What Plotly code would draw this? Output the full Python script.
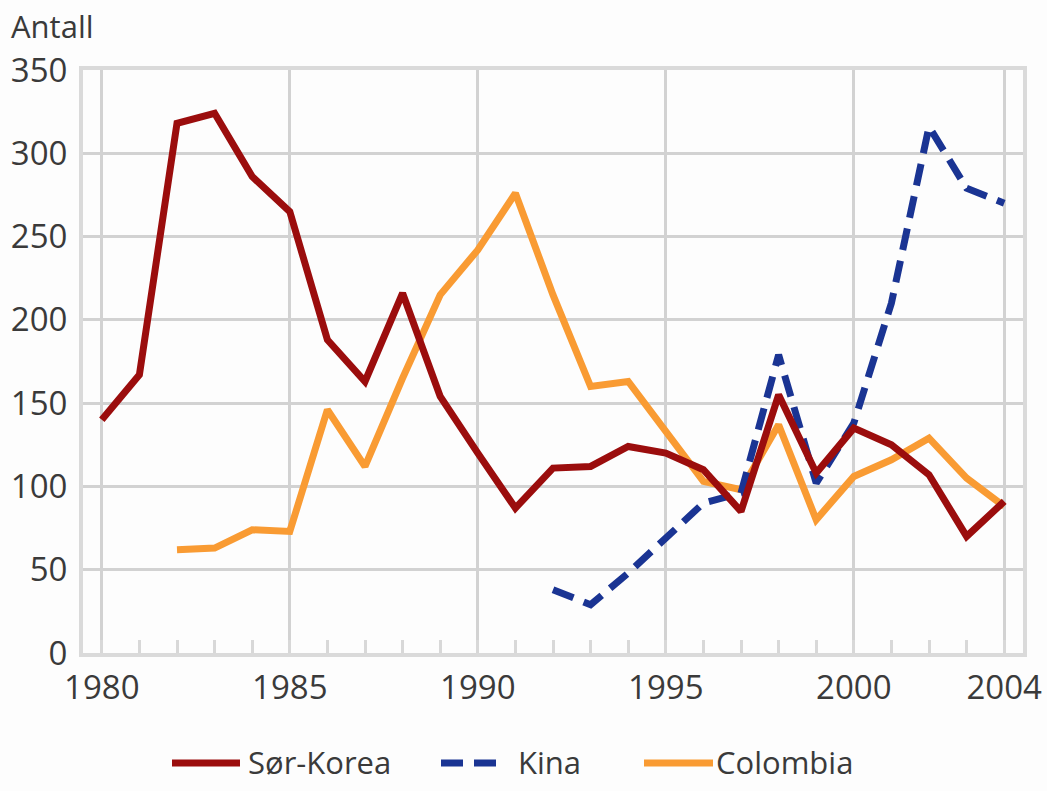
import plotly.graph_objects as go

years_korea = list(range(1980, 2005))
korea = [140, 167, 318, 324, 286, 265, 188, 163, 216, 154, 120, 87, 111, 112,
         124, 120, 110, 85, 155, 108, 135, 125, 107, 70, 91]

years_kina = list(range(1992, 2005))
kina = [38, 29, 48, 69, 90, 96, 179, 102, 138, 210, 316, 279, 270]

years_colombia = list(range(1982, 2005))
colombia = [62, 63, 74, 73, 146, 112, 165, 215, 242, 276, 215, 160, 163, 133,
            103, 98, 137, 80, 106, 116, 129, 105, 88]

x_tickvals = [1980, 1985, 1990, 1995, 2000, 2004]
y_tickvals = [0, 50, 100, 150, 200, 250, 300, 350]

series_names = ["Sør-Korea", "Kina", "Colombia"]

RED = "#9b0d0d"
BLUE = "#1a3493"
ORANGE = "#f99b33"
FONT = "Open Sans"
TXT = "#3a3a3a"

W, H = 1047, 791
L, R, T, B = 83, 24, 70, 138
PW = W - L - R
PH = H - T - B


def px_x(px):
    return (px - L) / PW


def px_y(py):
    return (H - B - py) / PH


fig = go.Figure()
fig.add_trace(go.Scatter(x=years_colombia, y=colombia, mode="lines", name=series_names[2],
                         line=dict(color=ORANGE, width=7), showlegend=False))
fig.add_trace(go.Scatter(x=years_kina, y=kina, mode="lines", name=series_names[1],
                         line=dict(color=BLUE, width=7, dash="22px,11px"), showlegend=False))
fig.add_trace(go.Scatter(x=years_korea, y=korea, mode="lines", name=series_names[0],
                         line=dict(color=RED, width=7), showlegend=False))

# legend drawn in paper space (keys + labels)
LEG_Y = 763
legend_items = [
    (series_names[0], RED, "solid", 172, 240, 249),
    (series_names[1], BLUE, "22px,11px", 441, 502, 519),
    (series_names[2], ORANGE, "solid", 644, 713, 717),
]
shapes = []
annotations = [dict(text="Antall", xref="paper", yref="paper", x=px_x(9), y=px_y(26),
                    xanchor="left", yanchor="middle", showarrow=False,
                    font=dict(size=31, color=TXT))]
for name, color, dash, x0, x1, tx in legend_items:
    shapes.append(dict(type="line", xref="paper", yref="paper",
                       x0=px_x(x0), x1=px_x(x1), y0=px_y(LEG_Y), y1=px_y(LEG_Y),
                       line=dict(color=color, width=7, dash=dash)))
    annotations.append(dict(text=name, xref="paper", yref="paper", x=px_x(tx - 3),
                            y=px_y(LEG_Y - 1), xanchor="left", yanchor="middle",
                            showarrow=False, font=dict(size=31, color=TXT)))

fig.update_layout(
    width=W, height=H,
    margin=dict(l=L, r=R, t=T, b=B),
    paper_bgcolor="#fdfdfd", plot_bgcolor="#fdfdfd",
    font=dict(family=FONT, size=31, color=TXT),
    showlegend=False,
    shapes=shapes,
    annotations=annotations,
)

fig.update_xaxes(
    range=[1979.5, 2004.5], tickmode="array", tickvals=x_tickvals,
    ticktext=[str(v) for v in x_tickvals], automargin=False,
    tickfont=dict(size=33), ticklabeloverflow="allow",
    showgrid=True, gridcolor="#d2d2d2", gridwidth=3,
    showline=True, linecolor="#dadada", linewidth=4, mirror=True,
    ticks="", zeroline=False, ticklabelstandoff=2,
    minor=dict(ticks="inside", tick0=1980, dtick=1, ticklen=13, tickwidth=3,
               tickcolor="#d8d8d8", showgrid=False),
)
fig.update_yaxes(
    range=[0, 350], tickmode="array", tickvals=y_tickvals, automargin=False,
    tickfont=dict(size=33),
    showgrid=True, gridcolor="#d2d2d2", gridwidth=3,
    showline=True, linecolor="#dadada", linewidth=4, mirror=True,
    ticks="", zeroline=False, ticklabelstandoff=5,
)

fig.write_html(
    "out.html",
    config={"displayModeBar": False},
    post_script="document.body.style.margin='0';document.body.style.overflow='hidden';",
)
